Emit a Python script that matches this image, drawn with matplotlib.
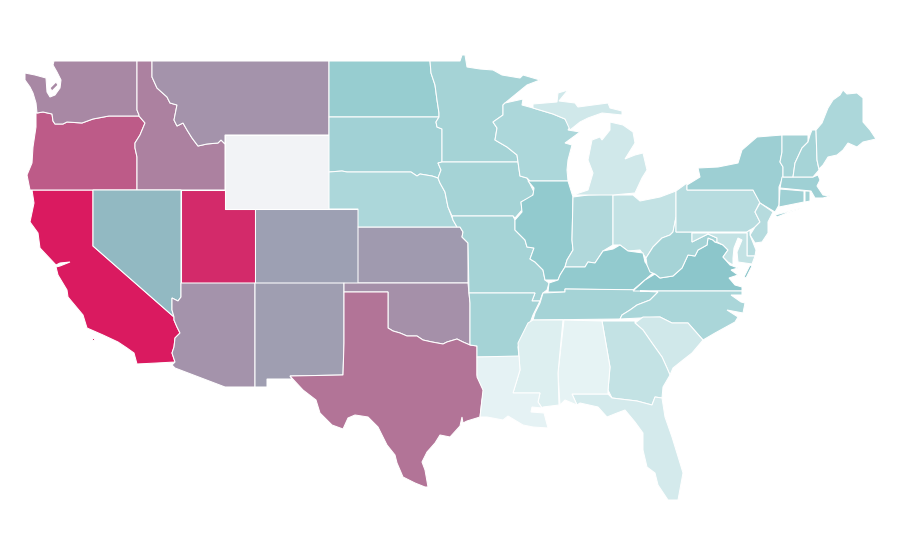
# choropleth of the lower 48 states, outlines traced by hand in picture pixels
import matplotlib
matplotlib.use('Agg')
import matplotlib.pyplot as plt
from matplotlib.colors import LinearSegmentedColormap
from matplotlib.patches import Polygon

states = ['CA','UT','OR','WA','ID','MT','WY','NV','AZ','CO','NM','KS','OK','TX',
          'ND','SD','NE','MN','IA','MO','AR','WI','IL','IN','OH','MI','KY','TN',
          'VA','WV','PA','NY','NC','SC','GA','FL','AL','MS','LA','NJ','DE','MD',
          'CT','RI','MA','VT','NH','ME']
values = [100,95,81,68,70,65,0,54,65,61,62,63,66,74,
          44,39,33,37,37,37,37,33,47,31,21,14,47,37,
          50,37,27,41,34,14,21,12,2,7,3,28,28,21,
          40,38,40,37,36,33]

outlines = {
 'WA': [[(54,61),(137,61),(137,110),(139,115),(139,116),(109,116),(93,119),(82,123),(67,122),(63,124),(55,124),(53,121),(52,114),(43,112),(37,113),(36,103),(33,93),(30,87),(25,80),(25,73),(35,75),(46,78),(47,92),(50,97),(55,95),(60,88),(61,80),(57,72),(53,65)],
        [(50,88),(56,82),(58,85),(52,91)]],
 'OR': [[(37,113),(43,112),(52,114),(53,121),(55,124),(63,124),(67,122),(82,123),(93,119),(109,116),(139,116),(145,123),(140,135),(135,143),(135,148),(137,157),(137,190),(30,190),(27,175),(32,163),(33,147),(36,127),(36,113)]],
 'ID': [[(137,61),(152,61),(152,77),(157,88),(167,97),(170,103),(177,105),(174,120),(177,126),(183,123),(187,130),(192,138),(198,146),(207,144),(218,143),(221,140),(225,144),(225,190),(137,190),(137,157),(135,148),(135,143),(140,135),(145,123),(139,116),(139,115),(137,110)]],
 'MT': [[(152,61),(329,61),(329,135),(225,135),(225,144),(221,140),(218,143),(207,144),(198,146),(192,138),(187,130),(183,123),(177,126),(174,120),(177,105),(170,103),(167,97),(157,88),(152,77)]],
 'WY': [[(225,135),(329,135),(329,209),(225,209)]],
 'NV': [[(93,190),(181,190),(181,297),(178,301),(172,298),(172,310),(174,317),(93,246)]],
 'UT': [[(181,190),(225,190),(225,209),(255,209),(255,283),(181,283)]],
 'CA': [[(32,190),(93,190),(93,246),(174,317),(174,320),(177,327),(180,333),(175,338),(174,347),(172,353),(175,362),(157,363),(137,364),(134,353),(127,348),(118,342),(103,335),(87,328),(83,315),(68,297),(67,290),(58,275),(56,267),(60,266),(70,262),(60,263),(56,265),(40,248),(38,233),(30,222),(34,203)],
        [(92,338),(94,338),(94,340),(92,340)]],
 'AZ': [[(181,283),(255,283),(255,387),(225,387),(175,368),(172,365),(175,362),(172,353),(174,347),(175,338),(180,333),(177,327),(174,320),(174,317),(172,310),(172,298),(178,301),(181,297)]],
 'CO': [[(255,209),(358,209),(358,283),(255,283)]],
 'KS': [[(358,227),(460,227),(463,232),(462,237),(468,243),(468,283),(358,283)]],
 'NM': [[(255,283),(344,283),(344,343),(343,375),(290,376),(292,379),(267,379),(267,387),(255,387)]],
 'OK': [[(344,283),(468,283),(470,303),(470,345),(463,342),(457,339),(447,342),(443,344),(432,342),(423,340),(417,336),(407,336),(400,333),(393,331),(388,328),(388,292),(344,292)]],
 'TX': [[(344,292),(388,292),(388,328),(393,331),(400,333),(407,336),(417,336),(423,340),(432,342),(443,344),(447,342),(457,339),(463,342),(470,345),(477,346),(477,375),(480,382),(484,391),(482,400),(480,417),(467,421),(463,423),(462,417),(460,426),(450,437),(440,435),(435,443),(427,452),(422,462),(425,470),(428,487),(425,487),(415,483),(403,477),(397,463),(395,455),(387,445),(378,427),(368,417),(355,415),(348,418),(343,429),(332,425),(320,413),(316,400),(303,390),(290,376),(343,375),(344,343)]],
 'ND': [[(329,61),(430,61),(431,73),(435,85),(437,100),(439,113),(439,117),(329,117)]],
 'SD': [[(329,117),(439,117),(436,122),(437,127),(442,129),(442,162),(438,163),(441,170),(438,178),(432,176),(420,174),(417,176),(411,172),(347,172),(342,171),(329,172)]],
 'NE': [[(329,172),(342,171),(347,172),(411,172),(417,176),(420,174),(432,176),(438,178),(440,183),(445,192),(448,207),(453,220),(457,227),(358,227),(358,209),(329,209)]],
 'MN': [[(430,61),(460,61),(462,55),(465,55),(467,67),(480,69),(493,70),(502,75),(520,78),(523,75),(540,80),(527,85),(505,103),(503,105),(503,115),(493,122),(497,128),(495,140),(507,147),(517,155),(518,162),(442,162),(442,129),(437,127),(436,122),(439,117),(439,113),(437,100),(435,85),(431,73)]],
 'IA': [[(438,163),(442,162),(518,162),(520,176),(527,178),(534,192),(532,197),(521,202),(522,210),(515,218),(513,216),(452,216),(448,207),(445,192),(440,183),(438,178),(441,170)]],
 'MO': [[(452,216),(513,216),(515,220),(515,230),(525,240),(527,247),(534,248),(530,259),(535,262),(543,270),(545,280),(549,283),(547,290),(543,293),(542,295),(540,301),(532,301),(535,293),(469,293),(468,243),(462,237),(463,232),(460,227),(457,227),(453,220)]],
 'AR': [[(469,293),(535,293),(532,301),(540,301),(533,315),(530,323),(523,335),(518,347),(519,357),(477,357),(477,346),(470,345),(470,303)]],
 'WI': [[(505,103),(523,99),(522,105),(533,108),(553,114),(565,119),(570,127),(568,130),(580,132),(565,143),(572,145),(568,160),(567,170),(568,181),(530,181),(527,178),(520,176),(518,162),(517,155),(507,147),(495,140),(497,128),(493,122),(503,115),(503,105)]],
 'IL': [[(528,181),(568,181),(573,197),(572,240),(573,250),(567,260),(565,267),(560,275),(558,280),(550,280),(545,280),(543,270),(535,262),(530,259),(534,248),(527,247),(525,240),(515,230),(515,220),(522,212),(521,202),(533,195),(534,188)]],
 'IN': [[(573,197),(588,195),(613,194),(613,245),(603,251),(595,263),(588,262),(585,267),(577,267),(565,267),(567,260),(573,250),(572,240)]],
 'OH': [[(613,195),(633,195),(640,201),(660,197),(676,191),(676,217),(673,232),(670,235),(662,238),(653,247),(646,258),(640,250),(628,251),(620,245),(613,245)]],
 'MI': [[(573,195),(588,190),(593,173),(588,160),(592,140),(600,137),(602,140),(610,130),(610,122),(623,125),(633,132),(635,143),(625,159),(635,155),(643,153),(647,170),(642,178),(635,193),(613,195)],
        [(533,104),(557,102),(558,93),(568,90),(559,101),(575,103),(578,107),(608,103),(610,108),(622,111),(622,115),(602,113),(588,118),(580,122),(570,130),(565,119),(553,114),(533,108)]],
 'KY': [[(548,292),(549,283),(558,280),(560,275),(565,267),(577,267),(585,267),(588,262),(595,263),(603,251),(613,249),(620,245),(628,251),(643,253),(645,262),(653,273),(645,280),(633,290),(565,289),(565,292)]],
 'TN': [[(543,293),(565,292),(565,289),(660,290),(658,292),(650,300),(637,305),(630,310),(622,315),(620,319),(533,320),(535,313),(540,303)]],
 'VA': [[(633,291),(645,280),(650,277),(655,274),(660,278),(673,276),(682,268),(688,255),(695,256),(698,250),(707,245),(708,238),(713,240),(715,242),(723,245),(728,250),(723,257),(730,265),(738,268),(731,270),(738,275),(729,278),(735,285),(742,287),(742,291)],
        [(744,277),(750,265),(752,266),(746,278)]],
 'WV': [[(692,232),(692,242),(702,237),(708,234),(717,238),(717,242),(715,242),(713,240),(708,238),(707,245),(698,250),(695,256),(688,255),(682,268),(673,276),(660,278),(655,274),(650,272),(647,265),(646,258),(653,247),(662,238),(670,235),(673,232),(676,217),(676,232)]],
 'PA': [[(676,191),(687,183),(687,190),(753,190),(760,202),(755,212),(760,222),(755,227),(747,232),(676,232)]],
 'NY': [[(687,185),(700,177),(698,168),(718,167),(738,163),(742,150),(757,137),(782,135),(782,152),(780,162),(783,167),(783,177),(779,187),(779,205),(775,212),(760,203),(753,190),(687,190)],
        [(775,215),(802,208),(787,213),(777,217)]],
 'NC': [[(640,291),(742,291),(742,295),(731,295),(741,302),(745,303),(743,313),(727,310),(738,317),(735,322),(715,333),(703,340),(688,323),(672,323),(660,317),(640,318),(620,319),(622,315),(630,310),(637,305),(650,300),(658,292)]],
 'SC': [[(635,323),(643,317),(660,317),(672,323),(688,323),(703,340),(692,353),(683,360),(673,368),(670,375),(667,368),(662,357),(652,343),(643,330)]],
 'GA': [[(602,321),(635,321),(635,323),(643,330),(652,343),(662,357),(667,368),(670,375),(663,387),(662,398),(655,397),(652,405),(637,401),(612,398),(608,390),(610,367)]],
 'FL': [[(572,394),(608,394),(612,398),(637,401),(652,405),(655,397),(662,398),(665,417),(672,437),(680,463),(683,473),(678,500),(668,500),(658,485),(655,473),(647,467),(643,450),(643,433),(635,422),(625,410),(617,413),(607,417),(598,407),(580,403),(577,405)]],
 'AL': [[(564,320),(602,321),(610,367),(608,390),(608,394),(572,394),(577,405),(565,400),(560,405),(558,373)]],
 'MS': [[(533,320),(563,320),(558,373),(559,405),(543,407),(542,408),(538,402),(540,393),(513,393),(520,370),(519,356),(518,343),(528,323)]],
 'LA': [[(477,357),(519,356),(520,370),(513,393),(540,393),(538,402),(542,408),(532,407),(531,412),(544,413),(548,428),(533,427),(523,425),(508,416),(503,420),(487,417),(480,417),(483,390),(477,377)]],
 'NJ': [[(760,203),(773,212),(768,222),(768,233),(762,242),(755,243),(750,235),(755,227),(760,222),(755,212)]],
 'DE': [[(747,232),(750,230),(750,235),(756,250),(755,256),(747,256)]],
 'MD': [[(692,233),(747,233),(747,256),(755,256),(752,264),(738,262),(737,252),(742,240),(738,238),(734,248),(733,258),(733,265),(728,262),(723,257),(728,250),(723,245),(717,242),(717,238),(708,234),(702,237),(692,242)]],
 'CT': [[(780,189),(804,191),(804,202),(779,207)]],
 'RI': [[(805,191),(810,191),(810,201),(805,202)]],
 'MA': [[(782,177),(793,177),(813,177),(818,175),(820,180),(817,186),(823,195),(830,196),(823,198),(815,198),(811,191),(780,188)]],
 'VT': [[(782,135),(808,135),(808,142),(802,148),(795,163),(793,177),(783,177),(783,167),(780,162),(782,152)]],
 'NH': [[(812,130),(816,130),(817,160),(819,170),(813,177),(793,177),(795,163),(802,148),(808,142),(810,135)]],
 'ME': [[(816,130),(822,123),(828,108),(833,100),(840,95),(843,90),(847,94),(857,93),(863,98),(863,122),(870,130),(876,139),(863,142),(857,147),(848,143),(843,150),(837,155),(828,157),(823,165),(819,169),(817,160)]],
}

cmap = LinearSegmentedColormap.from_list('scale', [(0, '#f2f3f6'), (0.01, '#e8f4f5'), (0.5, '#8cc7cb'), (1, '#da1a60')])

fig = plt.figure(figsize=(9, 5.6), dpi=100)
ax = fig.add_axes([0, 0, 1, 1])
for state, value in zip(states, values):
    for ring in outlines[state]:
        ax.add_patch(Polygon(ring, closed=True, facecolor=cmap(value / 100), edgecolor='white', linewidth=0.75))
ax.set_xlim(0, 900)
ax.set_ylim(560, 0)
ax.axis('off')
fig.savefig('out.png', dpi=100, facecolor='white')
